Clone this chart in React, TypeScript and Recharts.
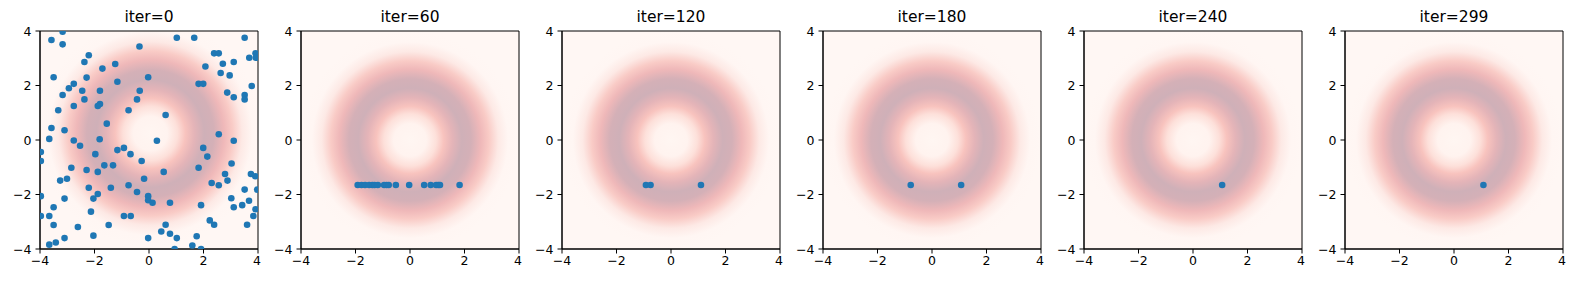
import React from 'react';
import { ScatterChart, Scatter, XAxis, YAxis, ReferenceArea } from 'recharts';

// panel titles
const titles = ['iter=0', 'iter=60', 'iter=120', 'iter=180', 'iter=240', 'iter=299'];
const axisTicks = [-4, -2, 0, 2, 4];

// initial particles (iter=0)
const iter0Points: [number, number][] = [
  [-3.17, 3.97], [-3.58, 3.67], [-3.17, 3.51], [-2.21, 3.11], [-2.37, 2.86], [-1.71, 2.62],
  [-1.24, 2.79], [-0.35, 3.43], [1.02, 3.75], [1.66, 3.75], [3.51, 3.75], [2.39, 3.18],
  [2.56, 3.18], [2.07, 2.7], [2.71, 2.8], [2.63, 2.46], [2.96, 2.37], [3.68, 3.02],
  [3.91, 3.18], [3.92, 3.02], [3.77, 1.98], [3.11, 1.57], [2.87, 1.74], [3.51, 1.65],
  [3.51, 1.49], [1.82, 2.06], [1.99, 2.06], [-0.03, 2.3], [-0.34, 1.81], [-0.44, 1.49],
  [-0.75, 1.09], [-1.16, 2.14], [-1.8, 1.81], [-1.8, 1.32], [-1.88, 1.25], [-2.29, 2.29],
  [-2.45, 1.81], [-2.76, 2.06], [-2.94, 1.9], [-3.17, 1.65], [-2.76, 1.25], [-2.37, 1.49],
  [-3.33, 1.09], [-3.5, 2.3], [-3.58, 0.44], [-3.66, 0.04], [-3.1, 0.36], [-1.55, 0.6],
  [-1.81, 0.03], [-2.76, -0.02], [-2.53, -0.21], [-3.97, -0.44], [-3.97, -0.77], [-0.92, -0.29],
  [-0.68, -0.52], [-1.16, -0.37], [-1.97, -0.52], [-1.64, -0.93], [-1.32, -0.93], [-1.88, -1.17],
  [-2.29, -1.1], [-2.85, -1.02], [-3.01, -1.42], [-3.26, -1.49], [-2.21, -1.75], [-1.88, -1.98],
  [-2.04, -2.15], [-3.1, -2.15], [-3.97, -2.06], [-3.5, -2.47], [-3.66, -2.79], [-3.5, -3.12],
  [-3.97, -2.79], [-2.13, -2.63], [-2.61, -3.19], [-3.1, -3.6], [-3.42, -3.76], [-3.66, -3.84],
  [-2.04, -3.51], [-1.4, -1.75], [-1.48, -3.12], [-0.92, -2.79], [-0.67, -2.79], [-0.75, -1.66],
  [-0.44, -1.91], [-0.18, -1.42], [-0.27, -0.77], [0.29, -0.03], [0.61, 0.92], [0.54, -1.17],
  [-0.03, -2.06], [-0.03, -2.21], [0.13, -2.3], [0.77, -2.3], [0.61, -3.11], [0.45, -3.36],
  [0.77, -3.44], [-0.03, -3.6], [1.02, -3.6], [0.94, -4.0], [1.59, -3.87], [1.75, -3.53],
  [1.91, -4.0], [1.91, -2.39], [1.82, -1.02], [1.99, -0.29], [2.14, -0.61], [2.3, -1.58],
  [2.56, -1.66], [2.23, -2.95], [2.39, -3.11], [2.79, -1.25], [2.88, -1.49], [3.03, -0.86],
  [2.56, 0.21], [3.11, -0.03], [3.02, -2.14], [3.11, -2.47], [3.42, -2.39], [3.51, -1.82],
  [3.67, -2.23], [3.6, -3.11], [3.83, -2.79], [3.91, -2.54], [3.74, -1.25], [3.9, -1.33],
  [3.97, -1.82], [3.11, 2.86],
];

// later iterations: survivors sit on one row
const rowY = -1.65;
const iter60X = [-1.92, -1.78, -1.65, -1.5, -1.38, -1.3, -1.18, -0.95, -0.86, -0.78, -0.52, -0.03, 0.52, 0.76, 0.96, 1.04, 1.1, 1.82];
const iter120X = [-0.92, -0.75, 1.1];
const iter180X = [-0.78, 1.07];
const iter240X = [1.07];
const iter299X = [1.08];

const toRow = (xs: number[]) => xs.map((x) => ({ x, y: rowY }));

const panels = [
  { title: titles[0], data: iter0Points.map(([x, y]) => ({ x, y })), grad: 'ringInit' },
  { title: titles[1], data: toRow(iter60X), grad: 'ring' },
  { title: titles[2], data: toRow(iter120X), grad: 'ring' },
  { title: titles[3], data: toRow(iter180X), grad: 'ring' },
  { title: titles[4], data: toRow(iter240X), grad: 'ring' },
  { title: titles[5], data: toRow(iter299X), grad: 'ring' },
];

const ringStops: [number, string][] = [
  [0, '#fff6f2'], [0.15, '#fff3ef'], [0.24, '#fde0da'], [0.31, '#f8c3be'],
  [0.39, '#e4b4b8'], [0.475, '#cfb0b8'], [0.56, '#d4b0b7'], [0.65, '#efb8b9'],
  [0.725, '#f9cbc6'], [0.81, '#fde9e5'], [0.9, '#fff6f3'], [1, '#fff7f4'],
];

const FONT = '"DejaVu Sans", sans-serif';
const TICK_FS = 12.5;
const fmt = (v: number) => (v < 0 ? '\u2212' + Math.abs(v) : String(v));

const Dot = (props: any) => <circle cx={props.cx} cy={props.cy} r={3.3} fill="#1f77b4" />;

const XTick = (props: any) => (
  <text x={props.x} y={props.y} dy="0.71em" textAnchor="middle" fill="#000" fontSize={TICK_FS} fontFamily={FONT}>
    {fmt(props.payload.value)}
  </text>
);

const YTick = (props: any) => (
  <text x={props.x} y={props.y} dy="0.36em" textAnchor="end" fill="#000" fontSize={TICK_FS} fontFamily={FONT}>
    {fmt(props.payload.value)}
  </text>
);

export default function App() {
  return (
    <div style={{ position: 'absolute', left: 0, top: 0, width: 1578, height: 283, background: '#fff', fontFamily: FONT }}>
      <svg width={0} height={0} style={{ position: 'absolute' }}>
        <defs>
          <radialGradient id="ring" cx="0.5" cy="0.5" r="0.5">
            {ringStops.map(([o, c]) => <stop key={o} offset={o} stopColor={c} />)}
          </radialGradient>
          <radialGradient id="ringInit" cx="0.506" cy="0.47" r="0.52">
            {ringStops.map(([o, c]) => <stop key={o} offset={o} stopColor={c} />)}
          </radialGradient>
        </defs>
      </svg>
      {panels.map((p, i) => (
        <div key={p.title} style={{ position: 'absolute', left: i * 261, top: 0, width: 261, height: 283 }}>
          <div style={{ position: 'absolute', left: 40, width: 218, top: 8, textAlign: 'center', fontSize: 15.5, lineHeight: '18px', color: '#000' }}>
            {p.title}
          </div>
          <ScatterChart width={261} height={283} margin={{ top: 31, right: 3, bottom: 0, left: 0 }}>
            <XAxis
              type="number"
              dataKey="x"
              domain={[-4, 4]}
              ticks={axisTicks}
              allowDataOverflow
              height={34}
              stroke="#000"
              tickSize={4.5}
              tickMargin={3}
              tick={XTick}
            />
            <YAxis
              type="number"
              dataKey="y"
              domain={[-4, 4]}
              ticks={axisTicks}
              allowDataOverflow
              width={40}
              stroke="#000"
              tickSize={4.5}
              tickMargin={4}
              tick={YTick}
            />
            <ReferenceArea x1={-4} x2={4} y1={-4} y2={4} fill={`url(#${p.grad})`} fillOpacity={1} stroke="#000" strokeWidth={1} />
            <Scatter data={p.data} shape={Dot} isAnimationActive={false} />
          </ScatterChart>
        </div>
      ))}
    </div>
  );
}
